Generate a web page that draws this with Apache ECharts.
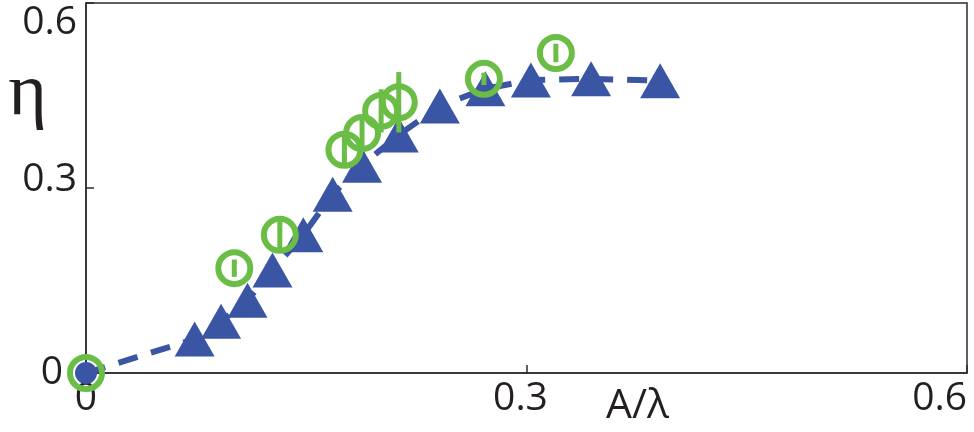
<!DOCTYPE html>
<html>
<head>
<meta charset="utf-8">
<script src="https://cdn.jsdelivr.net/npm/echarts@6/dist/echarts.min.js"></script>
<style>html,body{margin:0;padding:0;background:#fff}#c{width:974px;height:432px}</style>
</head>
<body>
<div id="c"></div>
<script>
// Blue triangles (dashed line), first point at origin
const triX = [0, 0.074, 0.092, 0.110, 0.127, 0.148, 0.168, 0.188, 0.213, 0.241, 0.272, 0.303, 0.344, 0.391];
const triY = [0, 0.055, 0.084, 0.118, 0.167, 0.224, 0.290, 0.337, 0.386, 0.433, 0.461, 0.475, 0.477, 0.474];
// Green open circles with vertical error bars
const circX = [0, 0.101, 0.132, 0.176, 0.188, 0.201, 0.213, 0.271, 0.320];
const circY = [0, 0.170, 0.224, 0.362, 0.389, 0.425, 0.439, 0.477, 0.519];
const circErr = [0, 0.014, 0.022, 0.028, 0.028, 0.035, 0.049, 0.010, 0.015];
// Axis ticks
const xTicks = [0, 0.3, 0.6];
const yTicks = [0, 0.3, 0.6];

const BLUE = '#3A55A4';
const GREEN = '#6ABD45';
const AXIS = '#2b2b2b';
const TEXT = '#231f20';

const triData = triX.map((x, i) => i === 0
  ? { value: [x, triY[i]], symbol: 'circle', symbolSize: 22 }
  : [x, triY[i]]);
const circData = circX.map((x, i) => [x, circY[i]]);
const errData = circX.map((x, i) => [x, circY[i], circErr[i]]);

const chart = echarts.init(document.getElementById('c'), null, { renderer: 'canvas' });
const labelFont = { fontFamily: 'Open Sans', fontSize: 39, color: TEXT };
const fmt = v => String(+v.toFixed(1));

chart.setOption({
  animation: false,
  backgroundColor: '#fff',
  grid: {
    left: 86, right: 7, top: 3, bottom: 59,
    show: true, borderColor: AXIS, borderWidth: 1.5,
    containLabel: false, outerBoundsMode: 'none'
  },
  xAxis: {
    type: 'value', min: xTicks[0], max: xTicks[xTicks.length - 1],
    interval: xTicks[1] - xTicks[0],
    splitLine: { show: false },
    axisLine: { lineStyle: { color: AXIS, width: 1.5 } },
    axisTick: { inside: true, length: 8, lineStyle: { color: AXIS, width: 1.5 } },
    axisLabel: Object.assign({}, labelFont, {
      margin: 6, alignMaxLabel: 'right',
      formatter: v => (v > 0 && v < 0.5) ? '{m|' + fmt(v) + '}' : fmt(v),
      rich: { m: Object.assign({}, labelFont, { padding: [0, 12, 0, 0] }) }
    }),
    name: 'A/λ', nameLocation: 'end', nameGap: -361, nameMoveOverlap: false,
    nameTextStyle: Object.assign({}, labelFont, { fontSize: 41, align: 'left', verticalAlign: 'top', padding: [13, 0, 0, 0] })
  },
  yAxis: {
    type: 'value', min: yTicks[0], max: yTicks[yTicks.length - 1],
    interval: yTicks[1] - yTicks[0],
    splitLine: { show: false },
    axisLine: { lineStyle: { color: AXIS, width: 1.5 } },
    axisTick: { inside: true, length: 8, lineStyle: { color: AXIS, width: 1.5 } },
    axisLabel: Object.assign({}, labelFont, {
      margin: 9, verticalAlignMaxLabel: 'top',
      formatter: v => v === 0 ? '{z|0}' : (v < 0.5 ? '{m|' + fmt(v) + '}' : fmt(v)),
      rich: {
        z: Object.assign({}, labelFont, { padding: [0, 14, 0, 0] }),
        m: Object.assign({}, labelFont, { padding: [0, 0, 16, 0] })
      }
    }),
    name: 'η', nameLocation: 'end', nameGap: -92, nameRotate: 0, nameMoveOverlap: false,
    nameTextStyle: { fontFamily: 'Liberation Serif', fontSize: 74, color: TEXT, align: 'right', verticalAlign: 'middle', padding: [0, 39, 0, 0] }
  },
  series: [
    {
      type: 'line', data: triData, clip: false,
      symbol: 'triangle', symbolSize: [40, 35],
      itemStyle: { color: BLUE, opacity: 1 },
      lineStyle: { color: BLUE, width: 6, type: [20, 14], opacity: 1 },
      z: 2
    },
    {
      type: 'custom', data: errData, clip: false, z: 3,
      renderItem: function (params, api) {
        const x = api.value(0), y = api.value(1), e = api.value(2);
        if (!e) return null;
        const p1 = api.coord([x, y - e]);
        const p2 = api.coord([x, y + e]);
        return { type: 'line', shape: { x1: p1[0], y1: p1[1], x2: p2[0], y2: p2[1] },
                 style: { stroke: GREEN, lineWidth: 5 } };
      }
    },
    {
      type: 'scatter', data: circData, clip: false, z: 4,
      symbol: 'circle', symbolSize: 32,
      itemStyle: { color: 'rgba(0,0,0,0)', borderColor: GREEN, borderWidth: 6, opacity: 1 }
    }
  ]
});
</script>
</body>
</html>
